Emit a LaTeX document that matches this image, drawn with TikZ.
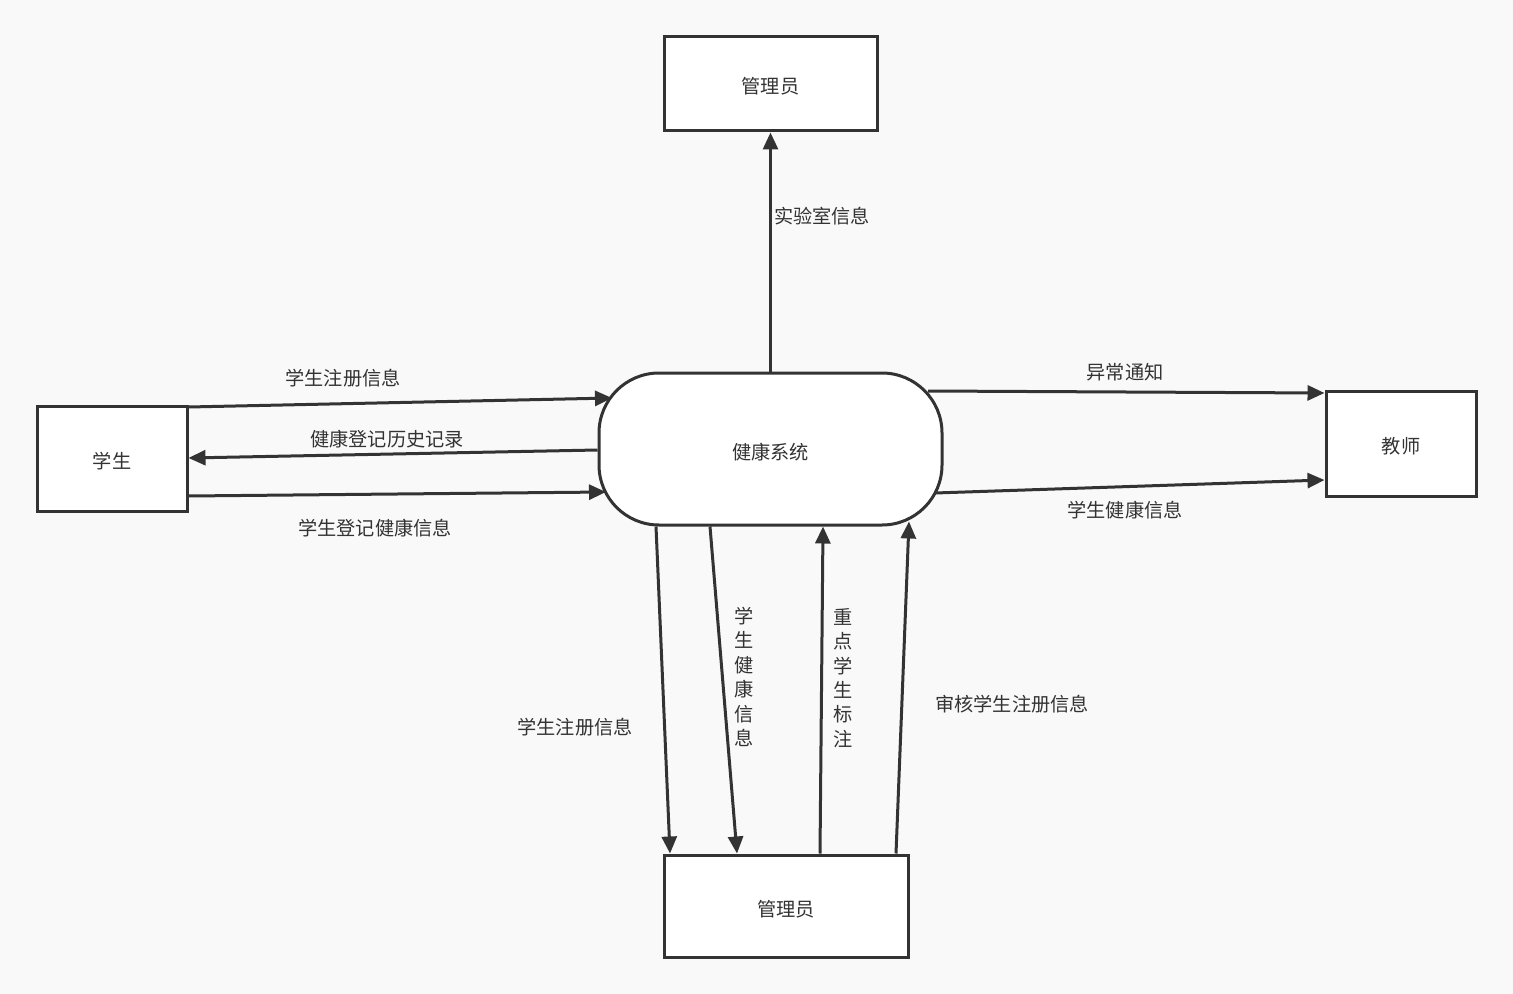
\documentclass[tikz,border=0pt]{standalone}
\usepackage{fontspec}
\newfontfamily\cjk{Noto Sans CJK SC}
\usetikzlibrary{arrows.meta,calc}
\definecolor{ink}{HTML}{333333}
\definecolor{paper}{HTML}{F9F9F9}
\tikzset{
  box/.style={draw=ink,line width=1.5pt,fill=white,inner sep=0pt,text height=11pt,text depth=1pt,font=\cjk\fontsize{9.6}{12}\selectfont,text=ink},
  proc/.style={box,rounded corners=30pt},
  lbl/.style={font=\cjk\fontsize{9.6}{12.2}\selectfont,text=ink,inner sep=0pt,align=center},
  flow/.style={draw=ink,line width=1.5pt,-{Triangle[length=8.5pt,width=7.5pt]}}
}
\begin{document}
\begin{tikzpicture}[x=0.5pt,y=-0.5pt]
\fill[paper] (0,0) rectangle (1513,994);
\useasboundingbox (0,0) rectangle (1513,994);
\node[proc,minimum width=171.5pt,minimum height=76pt] (sys) at (770.5,449) {健康系统};
\node[box,minimum width=106.5pt,minimum height=47pt] (top) at (770.5,84) {管理员};
\node[box,minimum width=75pt,minimum height=52.5pt] (stu) at (112,458.5) {学生};
\node[box,minimum width=75pt,minimum height=52.5pt] (tea) at (1401,443.5) {教师};
\node[box,minimum width=122pt,minimum height=51pt] (adm) at (786,906) {管理员};
% flows
\draw[flow] (sys.north) -- (top.south);
\draw[flow] ($(stu.east)+(0,-51.5)$) -- ($(sys.center)+(-158.5,-51)$);
\draw[flow] ($(sys.west)+(0,1)$) -- ($(stu.east)+(0,-0.5)$);
\draw[flow] ($(stu.east)+(0,37.5)$) -- ($(sys.center)+(-164.5,43)$);
\draw[flow] ($(sys.center)+(157.5,-58)$) -- ($(tea.west)+(0,-50.5)$);
\draw[flow] ($(sys.center)+(164.5,44)$) -- ($(tea.west)+(0,36.5)$);
\draw[flow] ($(sys.south)+(-114.5,0)$) -- ($(adm.north)+(-116,0)$);
\draw[flow] ($(sys.south)+(-60.5,0)$) -- ($(adm.north)+(-49,0)$);
\draw[flow] ($(adm.north)+(34,0)$) -- ($(sys.south)+(52.5,0)$);
\draw[flow] ($(adm.north)+(110,0)$) -- ($(sys.south)+(138.5,-5)$);
% labels
\node[lbl] (l1) at (822,216) {实验室信息};
\node[lbl] (l2) at (343,378) {学生注册信息};
\node[lbl] (l3) at (387,439) {健康登记历史记录};
\node[lbl] (l4) at (375,528) {学生登记健康信息};
\node[lbl] (l5) at (1125,372) {异常通知};
\node[lbl] (l6) at (1125,510) {学生健康信息};
\node[lbl] (l7) at (575,727) {学生注册信息};
\node[lbl] (l8) at (744,677) {学\\生\\健\\康\\信\\息};
\node[lbl] (l9) at (843,678) {重\\点\\学\\生\\标\\注};
\node[lbl] (l10) at (1012,704) {审核学生注册信息};
\end{tikzpicture}
\end{document}
